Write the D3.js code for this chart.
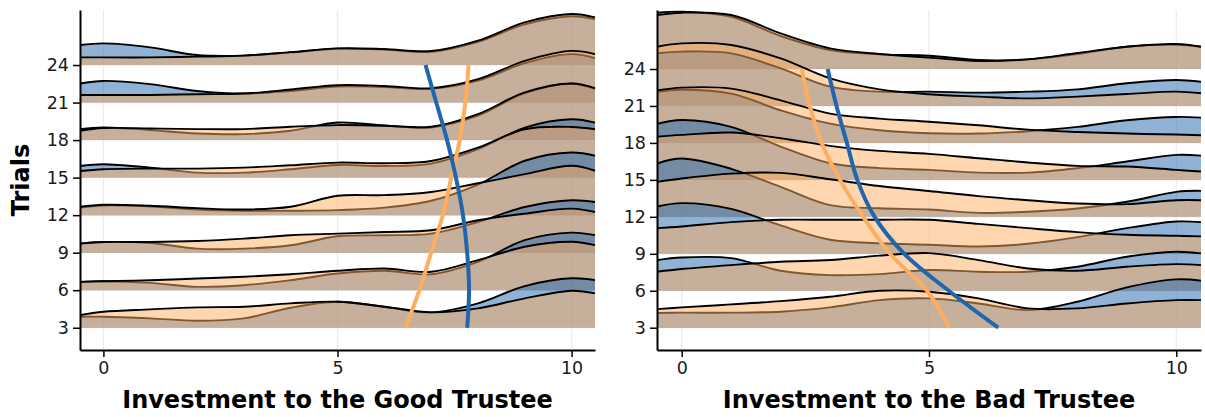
<!DOCTYPE html>
<html>
<head>
<meta charset="utf-8">
<script src="https://cdn.jsdelivr.net/npm/d3@7"></script>
<style>
  body { margin: 0; background: #fff; }
  text { font-family: "DejaVu Sans", sans-serif; }
</style>
</head>
<body>
<svg id="chart" width="1205" height="417"></svg>
<script>
// Trial rows of the ridgeline and the investment grid the densities are sampled on
const trials = [3, 6, 9, 12, 15, 18, 21, 24];
const investGrid = [-0.5, 0, 1, 2, 3, 4, 5, 6, 7, 8, 9, 10, 10.5];
const xTickValues = [0, 5, 10];
const panelTitles = ["Investment to the Good Trustee", "Investment to the Bad Trustee"];

// Ridge heights (in trial units) per trial row, good trustee
const goodBlue = [
  [0.88, 0.88, 0.75, 0.56, 0.75, 1.60, 2.08, 1.68, 1.23, 1.95, 3.33, 3.95, 3.81],
  [0.67, 0.72, 0.59, 0.27, 0.40, 0.80, 1.33, 1.55, 1.28, 2.27, 4.00, 4.60, 4.40],
  [0.72, 0.85, 0.77, 0.32, 0.32, 0.59, 1.31, 1.39, 1.52, 2.45, 3.65, 4.19, 4.05],
  [0.61, 0.77, 0.69, 0.45, 0.35, 0.35, 0.40, 0.60, 1.15, 2.45, 4.35, 5.01, 4.75],
  [0.93, 1.07, 0.80, 0.40, 0.40, 0.67, 1.01, 0.93, 1.12, 2.27, 4.00, 4.67, 4.40],
  [0.88, 1.01, 0.80, 0.53, 0.48, 0.75, 1.41, 1.17, 1.01, 1.95, 3.75, 4.50, 4.10],
  [1.52, 1.73, 1.47, 0.93, 0.72, 0.93, 1.28, 1.25, 1.10, 1.75, 3.15, 3.87, 3.55],
  [1.60, 1.73, 1.41, 0.80, 0.75, 1.01, 1.30, 1.23, 1.05, 1.85, 3.25, 3.90, 3.65]
];
const goodOrange = [
  [1.01, 1.28, 1.47, 1.63, 1.68, 1.95, 2.08, 1.68, 1.23, 1.55, 2.35, 2.96, 2.75],
  [0.67, 0.72, 0.80, 0.93, 1.07, 1.28, 1.55, 1.73, 1.47, 2.40, 3.47, 3.87, 3.60],
  [0.72, 0.85, 0.85, 0.93, 1.12, 1.39, 1.52, 1.65, 1.79, 2.59, 3.12, 3.52, 3.25],
  [0.67, 0.83, 0.75, 0.56, 0.45, 0.67, 1.55, 1.60, 1.85, 2.55, 3.28, 3.95, 3.55],
  [0.53, 0.67, 0.72, 0.72, 0.80, 0.99, 1.20, 1.15, 1.33, 2.40, 3.87, 4.05, 3.87],
  [0.75, 0.96, 0.93, 0.88, 0.88, 1.07, 1.20, 1.15, 1.07, 2.08, 3.81, 4.53, 4.16],
  [0.61, 0.61, 0.61, 0.67, 0.72, 1.04, 1.39, 1.33, 1.15, 1.87, 3.33, 4.13, 3.87],
  [0.61, 0.61, 0.61, 0.67, 0.75, 1.03, 1.33, 1.28, 1.12, 1.95, 3.41, 4.08, 3.81]
];

// Ridge heights (in trial units) per trial row, bad trustee
const badBlue = [
  [1.19, 1.22, 1.22, 1.30, 1.65, 2.24, 2.38, 1.97, 1.43, 2.11, 3.27, 3.92, 3.81],
  [2.49, 2.70, 2.65, 1.62, 1.27, 1.35, 1.68, 1.54, 1.54, 1.95, 2.76, 3.16, 3.03],
  [3.84, 4.11, 3.65, 2.30, 1.14, 0.85, 0.73, 0.59, 0.81, 1.35, 2.08, 2.62, 2.57],
  [4.32, 4.73, 3.90, 2.43, 0.95, 0.70, 0.59, 0.32, 0.41, 0.68, 1.22, 2.03, 2.11],
  [4.54, 4.86, 4.30, 2.70, 1.35, 0.95, 0.81, 0.59, 0.59, 0.95, 1.49, 2.03, 1.97],
  [4.14, 4.32, 4.00, 2.65, 1.57, 1.03, 0.78, 0.76, 0.95, 1.30, 1.84, 2.11, 2.05],
  [4.27, 4.41, 4.27, 3.05, 1.57, 1.16, 1.16, 1.08, 1.16, 1.35, 1.84, 2.11, 1.97],
  [4.57, 4.65, 4.24, 2.68, 1.54, 1.19, 1.08, 0.73, 0.78, 1.22, 1.81, 1.97, 1.81]
];
const badOrange = [
  [1.51, 1.65, 1.89, 2.16, 2.51, 3.00, 2.92, 2.38, 1.57, 1.57, 1.97, 2.24, 2.24],
  [1.54, 1.76, 2.08, 2.35, 2.49, 2.85, 3.05, 2.49, 1.81, 1.62, 1.95, 2.16, 2.08],
  [2.08, 2.22, 2.57, 2.76, 2.76, 2.76, 2.76, 2.43, 2.08, 1.76, 1.54, 1.46, 1.41],
  [2.84, 3.11, 3.51, 3.57, 3.05, 2.50, 2.10, 1.68, 1.35, 1.08, 1.03, 1.35, 1.35],
  [3.51, 3.65, 3.84, 3.38, 2.76, 2.35, 2.11, 1.76, 1.41, 1.14, 1.08, 0.81, 0.68],
  [4.27, 4.49, 4.41, 3.46, 2.38, 1.97, 1.72, 1.43, 1.08, 0.89, 0.76, 0.68, 0.62],
  [4.81, 5.08, 4.95, 3.86, 2.24, 1.35, 0.95, 0.76, 0.62, 0.76, 0.97, 1.16, 1.03],
  [4.38, 4.57, 4.38, 2.89, 1.68, 1.22, 0.92, 0.65, 0.78, 1.30, 1.81, 2.03, 1.81]
];

// Mean investment per trial row
const goodBlueMean   = [7.77, 7.81, 7.77, 7.68, 7.53, 7.34, 7.11, 6.88];
const goodOrangeMean = [6.45, 6.75, 7.00, 7.25, 7.43, 7.61, 7.73, 7.80];
const badBlueMean    = [6.40, 5.40, 4.50, 3.90, 3.55, 3.34, 3.13, 2.95];
const badOrangeMean  = [5.41, 4.96, 4.21, 3.67, 3.20, 2.83, 2.59, 2.43];

const BLUE = "#2166AC";
const ORANGE = "#FDAE61";

const svg = d3.select("#chart");

const panels = [
  { left: 80, right: 595, yDomain: [1.22, 28.4], blue: goodBlue, orange: goodOrange,
    blueMean: goodBlueMean, orangeMean: goodOrangeMean, title: panelTitles[0], yTitle: true },
  { left: 657, right: 1201, yDomain: [1.19, 28.79], blue: badBlue, orange: badOrange,
    blueMean: badBlueMean, orangeMean: badOrangeMean, title: panelTitles[1], yTitle: false }
];
const plotTop = 10, plotBottom = 350;
const ridgeCurve = d3.curveCatmullRom.alpha(0.5);

panels.forEach(p => {
  const g = svg.append("g");
  const x = d3.scaleLinear().domain([-0.5, 10.5]).range([p.left, p.right]);
  const y = d3.scaleLinear().domain(p.yDomain).range([plotBottom, plotTop]);

  // light grid
  g.append("g").selectAll("line").data(xTickValues).join("line")
    .attr("x1", d => x(d)).attr("x2", d => x(d))
    .attr("y1", plotTop).attr("y2", plotBottom)
    .attr("stroke", "#ebebeb").attr("stroke-width", 1.2);
  g.append("g").selectAll("line").data(trials).join("line")
    .attr("x1", p.left).attr("x2", p.right)
    .attr("y1", d => y(d)).attr("y2", d => y(d))
    .attr("stroke", "#ebebeb").attr("stroke-width", 1.2);

  // ridges, drawn from the top row down so lower rows sit in front
  const ridges = g.append("g");
  for (let i = trials.length - 1; i >= 0; i--) {
    const base = trials[i];
    [[p.blue[i], BLUE], [p.orange[i], ORANGE]].forEach(([heights, color]) => {
      const pts = investGrid.map((v, j) => [v, heights[j]]);
      const area = d3.area()
        .x(d => x(d[0])).y0(y(base)).y1(d => y(base + d[1]))
        .curve(ridgeCurve);
      const line = d3.line()
        .x(d => x(d[0])).y(d => y(base + d[1]))
        .curve(ridgeCurve);
      ridges.append("path").attr("d", area(pts))
        .attr("fill", color).attr("fill-opacity", 0.5).attr("stroke", "none");
      ridges.append("path").attr("d", line(pts))
        .attr("fill", "none").attr("stroke", "#000").attr("stroke-width", 1.9);
    });
  }

  // mean investment lines
  [[p.orangeMean, ORANGE], [p.blueMean, BLUE]].forEach(([means, color]) => {
    const line = d3.line()
      .x(d => x(d[0])).y(d => y(d[1]))
      .curve(d3.curveCatmullRom);
    g.append("path").attr("d", line(means.map((m, i) => [m, trials[i]])))
      .attr("fill", "none").attr("stroke", color).attr("stroke-width", 4);
  });

  // axes
  const yAxis = g.append("g").attr("transform", `translate(${p.left},0)`)
    .call(d3.axisLeft(y).tickValues(trials).tickSize(7).tickSizeOuter(0).tickPadding(4));
  const xAxis = g.append("g").attr("transform", `translate(0,${plotBottom})`)
    .call(d3.axisBottom(x).tickValues(xTickValues).tickSize(7).tickSizeOuter(0).tickPadding(5));
  [yAxis, xAxis].forEach(ax => {
    ax.select(".domain").attr("stroke", "#000").attr("stroke-width", 2);
    ax.selectAll(".tick line").attr("stroke", "#000").attr("stroke-width", 1.5);
    ax.selectAll(".tick text").attr("fill", "#1a1a1a")
      .style("font-size", "17.5px").style("font-family", "DejaVu Sans");
  });

  g.append("text")
    .attr("x", (p.left + p.right) / 2).attr("y", 408)
    .attr("text-anchor", "middle")
    .style("font-size", "24px").style("font-weight", "bold").attr("fill", "#000")
    .text(p.title);

  if (p.yTitle) {
    g.append("text")
      .attr("transform", `translate(29,${(plotTop + plotBottom) / 2}) rotate(-90)`)
      .attr("text-anchor", "middle")
      .style("font-size", "24px").style("font-weight", "bold").attr("fill", "#000")
      .text("Trials");
  }
});
</script>
</body>
</html>
